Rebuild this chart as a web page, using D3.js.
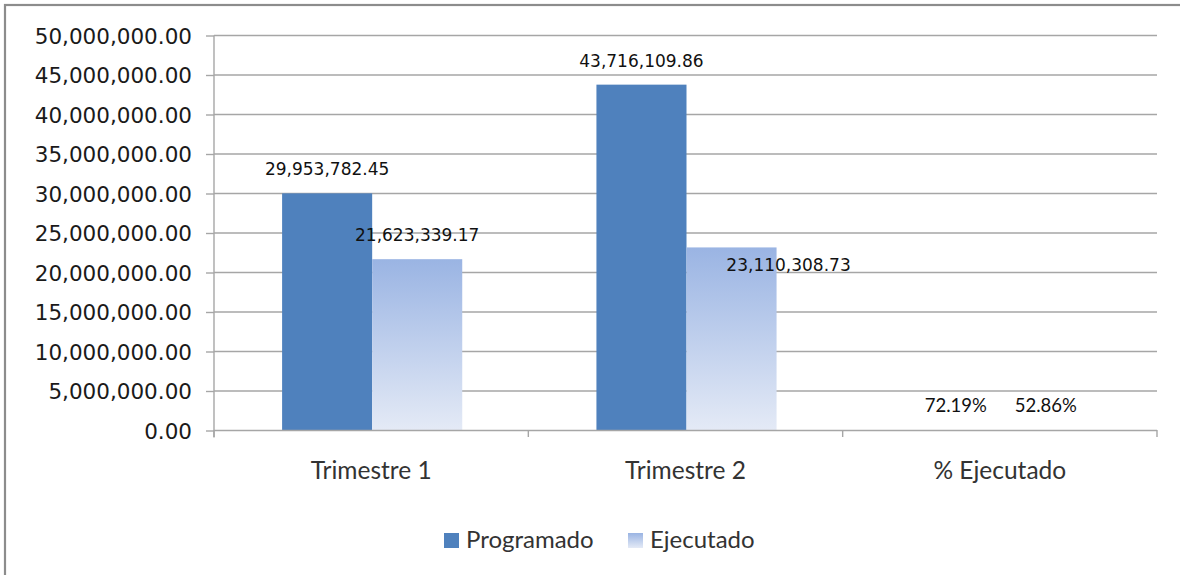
<!DOCTYPE html>
<html><head><meta charset="utf-8">
<script src="https://cdn.jsdelivr.net/npm/d3@7"></script>
<style>
html,body{margin:0;padding:0;background:#fff;overflow:hidden;}
</style></head>
<body>
<svg id="chart" width="1180" height="575"></svg>
<script>
const categories = ["Trimestre 1", "Trimestre 2", "% Ejecutado"];
const seriesNames = ["Programado", "Ejecutado"];
const programado = [29953782.45, 43716109.86, 0.7219];
const ejecutado = [21623339.17, 23110308.73, 0.5286];
const programadoLabels = ["29,953,782.45", "43,716,109.86", "72.19%"];
const ejecutadoLabels = ["21,623,339.17", "23,110,308.73", "52.86%"];
const yTicks = [0, 5000000, 10000000, 15000000, 20000000, 25000000, 30000000, 35000000, 40000000, 45000000, 50000000];
// manual label nudges (dx, dy) for labels moved in the original
const ejecutadoLabelShift = [[0, 0], [57, 42], [0, 0]];

(function () {
const svg = d3.select("#chart");
const W = 1180, H = 575;
const pLeft = 214, pRight = 1157, pTop = 35, pBottom = 430;

// outer frame (right/bottom off canvas)
svg.append("rect").attr("x", 5).attr("y", 5).attr("width", W + 20).attr("height", H + 20)
  .attr("fill", "#fff").attr("stroke", "#8c8c8c").attr("stroke-width", 2.2);

const defs = svg.append("defs");
const grad = defs.append("linearGradient").attr("id", "ejGrad").attr("x1", 0).attr("y1", 0).attr("x2", 0).attr("y2", 1);
grad.append("stop").attr("offset", "0%").attr("stop-color", "#9ab4e3");
grad.append("stop").attr("offset", "100%").attr("stop-color", "#e4eaf6");

const x0 = d3.scaleBand().domain(categories).range([pLeft, pRight]).paddingInner(0).paddingOuter(0);
const x1 = d3.scaleBand().domain(seriesNames).range([0, x0.bandwidth()]).paddingInner(0).paddingOuter(0.745);
const y = d3.scaleLinear().domain([0, 50000000]).range([pBottom, pTop]);

// gridlines
svg.append("g").selectAll("line").data(yTicks.slice(1)).join("line")
  .attr("x1", pLeft).attr("x2", pRight)
  .attr("y1", d => y(d) + 0.5).attr("y2", d => y(d) + 0.5)
  .attr("stroke", "#a6a6a6").attr("stroke-width", 1.4);

// y axis
const fmt = d3.format(",.2f");
const yAxis = d3.axisLeft(y).tickValues(yTicks).tickFormat(fmt).tickSize(8).tickPadding(14);
const gy = svg.append("g").attr("transform", `translate(${pLeft},0.5)`).call(yAxis);
gy.select(".domain").attr("stroke", "#a6a6a6").attr("stroke-width", 1.4).attr("d", `M0,${pTop}V${pBottom + 7}`);
gy.selectAll(".tick line").attr("stroke", "#a6a6a6").attr("stroke-width", 1.4);
gy.selectAll(".tick text").attr("fill", "#1a1a1a").style("font-family", "DejaVu Sans").style("font-size", "21.5px").attr("dy", "0.36em");

// bars
const data = categories.map((c, i) => ({ c, vals: [programado[i], ejecutado[i]] }));
const groups = svg.append("g").selectAll("g").data(data).join("g")
  .attr("transform", d => `translate(${x0(d.c)},0)`);
groups.selectAll("rect").data(d => d.vals.map((v, j) => ({ v, s: seriesNames[j] }))).join("rect")
  .attr("x", d => x1(d.s) + 1).attr("width", x1.bandwidth())
  .attr("y", d => y(d.v)).attr("height", d => pBottom - y(d.v))
  .attr("fill", d => d.s === "Programado" ? "#4f81bd" : "url(#ejGrad)");

// x axis
const xAxisLine = svg.append("g");
xAxisLine.append("line").attr("x1", pLeft).attr("x2", pRight).attr("y1", pBottom + 0.5).attr("y2", pBottom + 0.5)
  .attr("stroke", "#a6a6a6").attr("stroke-width", 1.6);
const bounds = categories.map(c => x0(c)).concat([x0(categories[categories.length - 1]) + x0.bandwidth()]);
xAxisLine.selectAll("line.tk").data(bounds).join("line").attr("class", "tk")
  .attr("x1", d => d).attr("x2", d => d).attr("y1", pBottom).attr("y2", pBottom + 7)
  .attr("stroke", "#a6a6a6").attr("stroke-width", 1.4);
svg.append("g").selectAll("text").data(categories).join("text")
  .attr("x", d => x0(d) + x0.bandwidth() / 2).attr("y", 479)
  .attr("text-anchor", "middle").attr("fill", "#333")
  .style("font-family", "Lato").style("font-size", "24.5px").text(d => d);

// data labels
const lblG = svg.append("g");
categories.forEach((c, i) => {
  const isPct = i === 2;
  const font = isPct ? "Lato" : "DejaVu Sans";
  const size = isPct ? "18.5px" : "17px";
  [[programado[i], programadoLabels[i], "Programado", [0, 0]], [ejecutado[i], ejecutadoLabels[i], "Ejecutado", ejecutadoLabelShift[i]]]
    .forEach(([v, t, s, sh]) => {
      lblG.append("text")
        .attr("x", x0(c) + x1(s) + x1.bandwidth() / 2 + 1 + sh[0])
        .attr("y", y(v) - 18 + sh[1])
        .attr("text-anchor", "middle").attr("fill", "#111")
        .style("font-family", font).style("font-size", size).text(t);
    });
});

// legend
const leg = svg.append("g");
const legItems = [{ s: "Programado", x: 444, fill: "#4f81bd" }, { s: "Ejecutado", x: 628, fill: "url(#ejGrad)" }];
legItems.forEach(it => {
  leg.append("rect").attr("x", it.x).attr("y", 533).attr("width", 15).attr("height", 15).attr("fill", it.fill);
  leg.append("text").attr("x", it.x + 22).attr("y", 548).attr("fill", "#333")
    .style("font-family", "Lato").style("font-size", "24px").text(it.s);
});
})();
</script>
</body></html>
